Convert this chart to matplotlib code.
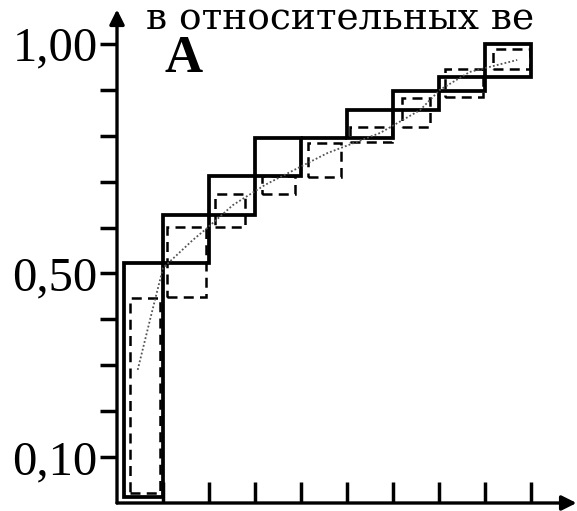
import matplotlib.pyplot as plt
from matplotlib.patches import Rectangle

# solid staircase boxes (x in class units, y in relative units)
solid_x0 = [0.15, 1, 2, 3, 4, 5, 6, 7, 8]
solid_x1 = [1, 2, 3, 4, 5, 6, 7, 8, 9]
solid_lo = [0.013, 0.523, 0.627, 0.712, 0.795, 0.795, 0.856, 0.898, 0.928]
solid_hi = [0.523, 0.627, 0.712, 0.795, 0.795, 0.856, 0.898, 0.928, 1.0]

# dashed inner boxes
dash_x0 = [0.28, 1.09, 2.13, 3.15, 4.15, 5.07, 6.2, 7.13, 8.17]
dash_x1 = [0.93, 1.93, 2.78, 3.87, 4.87, 5.98, 6.8, 7.96, 8.98]
dash_lo = [0.022, 0.449, 0.601, 0.673, 0.710, 0.786, 0.819, 0.885, 0.946]
dash_hi = [0.447, 0.601, 0.673, 0.712, 0.784, 0.819, 0.882, 0.946, 0.989]

# dotted curve
curve_x = [0.45, 0.72, 1.0, 1.65, 1.96, 2.52, 3.22, 3.98, 4.57, 5.72, 6.59, 7.02, 7.67, 8.7]
curve_y = [0.29, 0.40, 0.512, 0.573, 0.599, 0.649, 0.693, 0.732, 0.762, 0.806, 0.856, 0.900, 0.939, 0.965]

y_ticks = [0.1, 0.2, 0.3, 0.4, 0.5, 0.6, 0.7, 0.8, 0.9, 1.0]
y_labels = ["0,10", "", "", "", "0,50", "", "", "", "", "1,00"]
x_ticks = [1, 2, 3, 4, 5, 6, 7, 8, 9]

W, H = 577, 511
fig = plt.figure(figsize=(W / 100, H / 100), dpi=100)
ax = fig.add_axes([117 / W, 8 / H, 460 / W, 505 / H])
ax.set_xlim(0, 10)
ax.set_ylim(0, 1.1)
for s in ax.spines.values():
    s.set_visible(False)

# axes with arrows
ax.annotate("", xy=(0, 1.075), xytext=(0, 0),
            arrowprops=dict(arrowstyle="-|>", lw=2.4, color="black", mutation_scale=22,
                            shrinkA=0, shrinkB=0), annotation_clip=False)
ax.annotate("", xy=(9.99, 0), xytext=(0, 0),
            arrowprops=dict(arrowstyle="-|>", lw=2.4, color="black", mutation_scale=22,
                            shrinkA=0, shrinkB=0), annotation_clip=False)

ax.set_yticks(y_ticks)
ax.set_yticklabels(y_labels, family="Liberation Serif", fontsize=35)
ax.tick_params(axis="y", direction="out", length=12, width=2.5, pad=2)
ax.set_xticks(x_ticks)
ax.set_xticklabels([])
ax.tick_params(axis="x", direction="in", length=15, width=2.5)

for x0, x1, lo, hi in zip(solid_x0, solid_x1, solid_lo, solid_hi):
    ax.add_patch(Rectangle((x0, lo), x1 - x0, hi - lo, fill=False,
                           edgecolor="black", lw=2.7, zorder=3))

for x0, x1, lo, hi in zip(dash_x0, dash_x1, dash_lo, dash_hi):
    ax.add_patch(Rectangle((x0, lo), x1 - x0, hi - lo, fill=False,
                           edgecolor="black", lw=1.8, linestyle=(0, (4, 2.5)), zorder=2))

ax.plot(curve_x, curve_y, color="#555555", lw=1.3, linestyle=(0, (1, 1.2)), zorder=4)

fig.text(146 / W, 1 - 29 / H, "в относительных ве", family="DejaVu Serif",
         fontsize=27, va="baseline", ha="left")
fig.text(165 / W, 1 - 72 / H, "A", family="Liberation Serif", fontweight="bold",
         fontsize=38, va="baseline", ha="left")

fig.savefig("out.png", dpi=100)
